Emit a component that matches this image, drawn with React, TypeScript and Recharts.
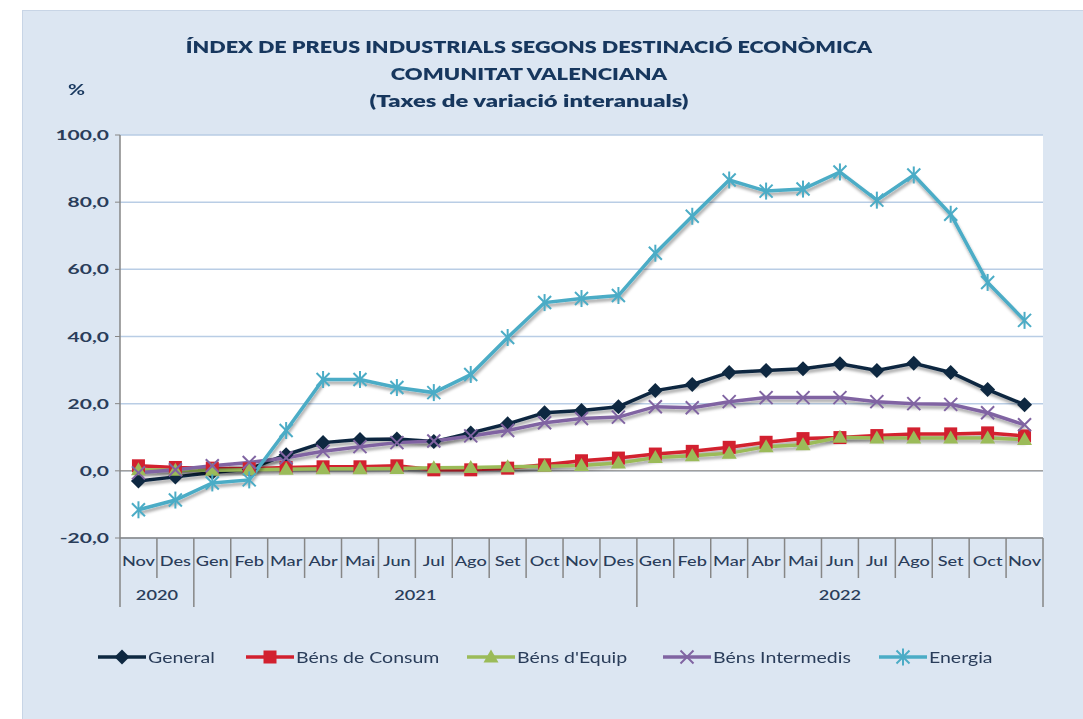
import React from "react";
import { LineChart, Line, XAxis, YAxis, CartesianGrid, ReferenceLine } from "recharts";

const months = ["Nov", "Des", "Gen", "Feb", "Mar", "Abr", "Mai", "Jun", "Jul", "Ago", "Set", "Oct", "Nov", "Des", "Gen", "Feb", "Mar", "Abr", "Mai", "Jun", "Jul", "Ago", "Set", "Oct", "Nov"];
const years = ["2020", "2020", "2021", "2021", "2021", "2021", "2021", "2021", "2021", "2021", "2021", "2021", "2021", "2021", "2022", "2022", "2022", "2022", "2022", "2022", "2022", "2022", "2022", "2022", "2022"];

const general = [-3.0, -1.8, -0.5, 0.5, 4.8, 8.4, 9.3, 9.5, 8.7, 11.3, 14.0, 17.3, 18.0, 19.1, 23.9, 25.7, 29.3, 29.9, 30.4, 31.9, 29.9, 32.0, 29.3, 24.2, 19.7];
const consum = [1.5, 1.0, 0.8, 0.6, 1.0, 1.2, 1.2, 1.5, 0.3, 0.3, 0.8, 1.8, 3.0, 3.8, 5.0, 5.8, 7.0, 8.5, 9.6, 9.9, 10.5, 11.0, 11.0, 11.3, 10.4];
const equip = [0.3, 0.2, 0.2, 0.3, 0.5, 0.6, 0.6, 0.7, 0.9, 1.0, 1.2, 1.4, 1.6, 2.3, 4.0, 4.5, 5.2, 7.2, 7.8, 10.0, 9.8, 9.8, 9.8, 9.8, 9.3];
const intermedis = [-0.6, 0.3, 1.5, 2.5, 3.9, 5.8, 7.2, 8.4, 8.9, 10.4, 12.0, 14.3, 15.6, 16.0, 19.1, 18.8, 20.6, 21.8, 21.8, 21.8, 20.6, 20.0, 19.8, 17.3, 13.7];
const energia = [-11.6, -8.7, -3.6, -2.7, 12.0, 27.2, 27.2, 24.8, 23.3, 28.7, 39.7, 50.1, 51.3, 52.2, 64.8, 75.8, 86.6, 83.3, 83.9, 89.0, 80.6, 88.1, 76.4, 56.1, 44.8];

const yTicks = [-20, 0, 20, 40, 60, 80, 100];

const data = months.map((m, i) => ({
    id: i,
    general: general[i],
    consum: consum[i],
    equip: equip[i],
    intermedis: intermedis[i],
    energia: energia[i],
}));

const FONT = "Lato, 'Open Sans', sans-serif";
const TEXT = "#2a3d5a";
const NAVY = "#17375e";
// the original's Calibri text is drawn noticeably wider, so text gets stretched
const STRETCH = 1.3;

// plot geometry
const PLOT_LEFT = 120;
const PLOT_RIGHT = 1043;
const PLOT_TOP = 135;
const PLOT_BOTTOM = 538;
const BW = (PLOT_RIGHT - PLOT_LEFT) / months.length;

const series = [
    { key: "general", name: "General", color: "#0e2841", shape: "diamond", legendX: 98 },
    { key: "consum", name: "Béns de Consum", color: "#d2202f", shape: "square", legendX: 246 },
    { key: "equip", name: "Béns d'Equip", color: "#9bbb59", shape: "triangle", legendX: 467 },
    { key: "intermedis", name: "Béns Intermedis", color: "#8064a2", shape: "x", legendX: 663 },
    { key: "energia", name: "Energia", color: "#4bacc6", shape: "star", legendX: 879 },
];

function Marker({ shape, cx, cy, color }: { shape: string; cx: number; cy: number; color: string }) {
    if (shape === "diamond") {
        return <polygon points={`${cx},${cy - 7.5} ${cx + 7.5},${cy} ${cx},${cy + 7.5} ${cx - 7.5},${cy}`} fill={color} />;
    }
    if (shape === "square") {
        return <rect x={cx - 6.5} y={cy - 6.5} width={13} height={13} fill={color} />;
    }
    if (shape === "triangle") {
        return <polygon points={`${cx},${cy - 7.5} ${cx + 7.5},${cy + 5.5} ${cx - 7.5},${cy + 5.5}`} fill={color} />;
    }
    if (shape === "x") {
        return (
            <g stroke={color} strokeWidth={2}>
                <line x1={cx - 6.5} y1={cy - 6.5} x2={cx + 6.5} y2={cy + 6.5} />
                <line x1={cx - 6.5} y1={cy + 6.5} x2={cx + 6.5} y2={cy - 6.5} />
            </g>
        );
    }
    return (
        <g stroke={color} strokeWidth={2}>
            <line x1={cx - 6.5} y1={cy - 6.5} x2={cx + 6.5} y2={cy + 6.5} />
            <line x1={cx - 6.5} y1={cy + 6.5} x2={cx + 6.5} y2={cy - 6.5} />
            <line x1={cx} y1={cy - 8.5} x2={cx} y2={cy + 8.5} />
        </g>
    );
}

function WideText({ x, y, anchor, size, weight, stretch = STRETCH, children }: any) {
    return (
        <text
            transform={`translate(${x},${y}) scale(${stretch},1)`}
            textAnchor={anchor}
            fill={TEXT}
            fontSize={size}
            fontWeight={weight}
            fontFamily={FONT}
        >
            {children}
        </text>
    );
}

function MonthTick(props: any) {
    const { x, y, payload } = props;
    const i = payload.index;
    const yearStart = i === 0 || years[i] !== years[i - 1];
    const last = i === months.length - 1;
    const left = x - BW / 2;
    let yearLabel = null;
    if (yearStart) {
        const count = years.filter((yy) => yy === years[i]).length;
        yearLabel = (
            <WideText x={left + (count * BW) / 2} y={y + 62} anchor="middle" size={14} weight={600}>
                {years[i]}
            </WideText>
        );
    }
    return (
        <g>
            <line x1={left} y1={y} x2={left} y2={y + (yearStart ? 69 : 40)} stroke="#868686" strokeWidth={1.5} />
            {last && <line x1={left + BW} y1={y} x2={left + BW} y2={y + 69} stroke="#868686" strokeWidth={1.5} />}
            <WideText x={x} y={y + 28} anchor="middle" size={14} weight={500}>
                {months[i]}
            </WideText>
            {yearLabel}
        </g>
    );
}

function ValueTick(props: any) {
    const { x, y, payload } = props;
    return (
        <WideText x={x - 2} y={y + 5} anchor="end" size={14} weight={700} stretch={1.5}>
            {payload.value.toFixed(1).replace(".", ",")}
        </WideText>
    );
}

const lineStyle = (k: number) => ({ display: "block", textAlign: "center" as const, transform: `scaleX(${k})` });

export default function App() {
    return (
        <div style={{ position: "absolute", left: 0, top: 0, width: 1083, height: 719, background: "#fff", overflow: "hidden", fontFamily: FONT }}>
            <div style={{ position: "absolute", left: 22, top: 10, width: 1070, height: 720, background: "#dce6f2", border: "1px solid #c8d5e6" }} />

            {/* Title */}
            <div style={{ position: "absolute", left: 229, width: 600, top: 33, color: NAVY, fontWeight: 800, fontSize: 17, lineHeight: "27px" }}>
                <div style={lineStyle(1.27)}>ÍNDEX DE PREUS INDUSTRIALS SEGONS DESTINACIÓ ECONÒMICA</div>
                <div style={lineStyle(1.29)}>COMUNITAT VALENCIANA</div>
                <div style={lineStyle(1.4)}>(Taxes de variació interanuals)</div>
            </div>
            <div style={{ position: "absolute", left: 70, top: 79, color: NAVY, fontWeight: 700, fontSize: 16, transform: `scaleX(${STRETCH})` }}>%</div>

            <div style={{ position: "absolute", left: 0, top: 0 }}>
                <LineChart
                    width={1083}
                    height={719}
                    data={data}
                    margin={{ top: PLOT_TOP, right: 1083 - PLOT_RIGHT, bottom: 719 - PLOT_BOTTOM - 70, left: PLOT_LEFT - 60 }}
                >
                    <defs>
                        <filter id="shadow" x="-5%" y="-5%" width="110%" height="120%">
                            <feDropShadow dx="1" dy="3" stdDeviation="1.5" floodColor="#000" floodOpacity="0.35" />
                        </filter>
                    </defs>
                    <CartesianGrid vertical={false} stroke="#b9cde5" strokeWidth={1.5} fill="#ffffff" fillOpacity={1} />
                    <XAxis
                        dataKey="id"
                        type="category"
                        scale="band"
                        interval={0}
                        height={70}
                        tickSize={0}
                        tickMargin={0}
                        tickLine={false}
                        axisLine={{ stroke: "#868686", strokeWidth: 1.5 }}
                        tick={<MonthTick />}
                    />
                    <YAxis
                        width={60}
                        domain={[-20, 100]}
                        ticks={yTicks}
                        interval={0}
                        tickSize={5}
                        tickMargin={4}
                        axisLine={{ stroke: "#868686", strokeWidth: 1.5 }}
                        tickLine={{ stroke: "#868686" }}
                        tick={<ValueTick />}
                    />
                    <ReferenceLine y={0} stroke="#a0a0a0" strokeWidth={1.5} />
                    {series.map((s) => (
                        <Line
                            key={s.key}
                            dataKey={s.key}
                            name={s.name}
                            stroke={s.color}
                            strokeWidth={3.5}
                            isAnimationActive={false}
                            style={{ filter: "url(#shadow)" }}
                            dot={(p: any) => <Marker key={`${s.key}-${p.index}`} shape={s.shape} cx={p.cx} cy={p.cy} color={s.color} />}
                            activeDot={false}
                        />
                    ))}
                </LineChart>
            </div>

            {/* Legend */}
            {series.map((s) => (
                <div key={s.key} style={{ position: "absolute", top: 648, left: s.legendX, display: "flex", alignItems: "center", fontSize: 15, color: TEXT, whiteSpace: "nowrap" }}>
                    <svg width={48} height={18}>
                        <line x1={0} y1={9} x2={48} y2={9} stroke={s.color} strokeWidth={3.5} />
                        <Marker shape={s.shape} cx={24} cy={9} color={s.color} />
                    </svg>
                    <span style={{ marginLeft: 2, display: "inline-block", transform: `scaleX(${STRETCH})`, transformOrigin: "left center" }}>{s.name}</span>
                </div>
            ))}
        </div>
    );
}
